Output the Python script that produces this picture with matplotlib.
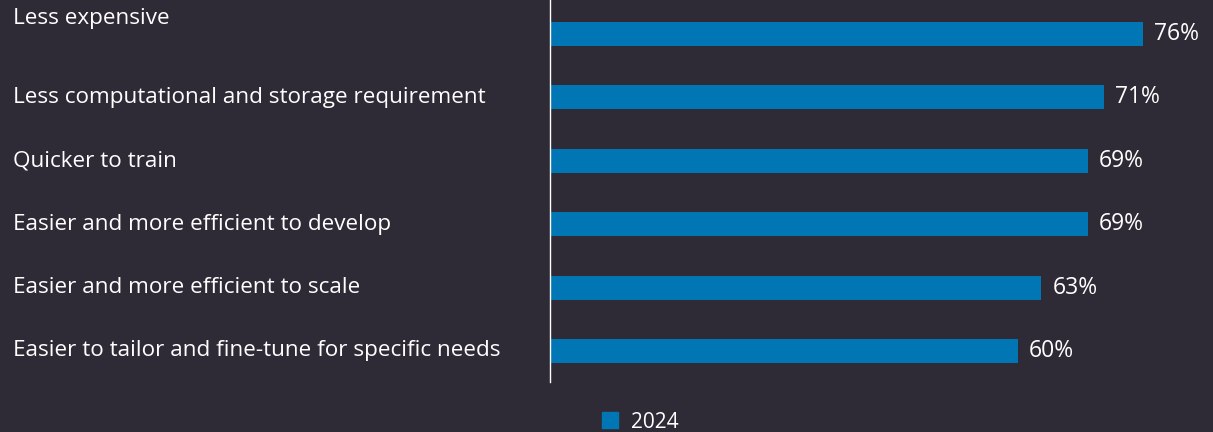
import matplotlib.pyplot as plt
import matplotlib.transforms as mtransforms
from matplotlib.patches import Patch

categories = ['Less expensive',
              'Less computational and storage requirement',
              'Quicker to train',
              'Easier and more efficient to develop',
              'Easier and more efficient to scale',
              'Easier to tailor and fine-tune for specific needs']
values = [76, 71, 69, 69, 63, 60]
series_name = '2024'

bg = '#2e2b36'
bar_color = '#0077b4'
plt.rcParams['font.family'] = ['Open Sans', 'DejaVu Sans']

fig = plt.figure(figsize=(12.13, 4.32), dpi=100, facecolor=bg)
ax = fig.add_axes([550 / 1213, 50 / 432, 663 / 1213, 382 / 432])
ax.set_facecolor(bg)

ypos = list(range(len(categories)))[::-1]
ax.barh(ypos, values, height=0.38, color=bar_color)
for y, v in zip(ypos, values):
    ax.text(v + 1.4, y, f'{v}%', va='center', ha='left', color='white', fontsize=16.5)

# category labels, left aligned near the figure edge
trans = mtransforms.blended_transform_factory(fig.transFigure, ax.transData)
for i, (y, c) in enumerate(zip(ypos, categories)):
    yy = y + 0.25 if i == 0 else y
    ax.text(13 / 1213, yy, c, transform=trans, ha='left', va='center',
            color='white', fontsize=16.2, clip_on=False)

ax.set_xlim(0, 85)
ax.set_ylim(-0.49, 5.536)
ax.set_xticks([])
ax.set_yticks([])
for s in ['top', 'right', 'bottom']:
    ax.spines[s].set_visible(False)
ax.spines['left'].set_color('white')
ax.spines['left'].set_linewidth(1)

fig.legend(handles=[Patch(color=bar_color, label=series_name)], loc='center',
           bbox_to_anchor=(640 / 1213, 10 / 432), frameon=False, fontsize=15,
           labelcolor='white', handlelength=0.8, handleheight=0.8, handletextpad=0.6)

fig.savefig('out.png', dpi=100, facecolor=bg)
